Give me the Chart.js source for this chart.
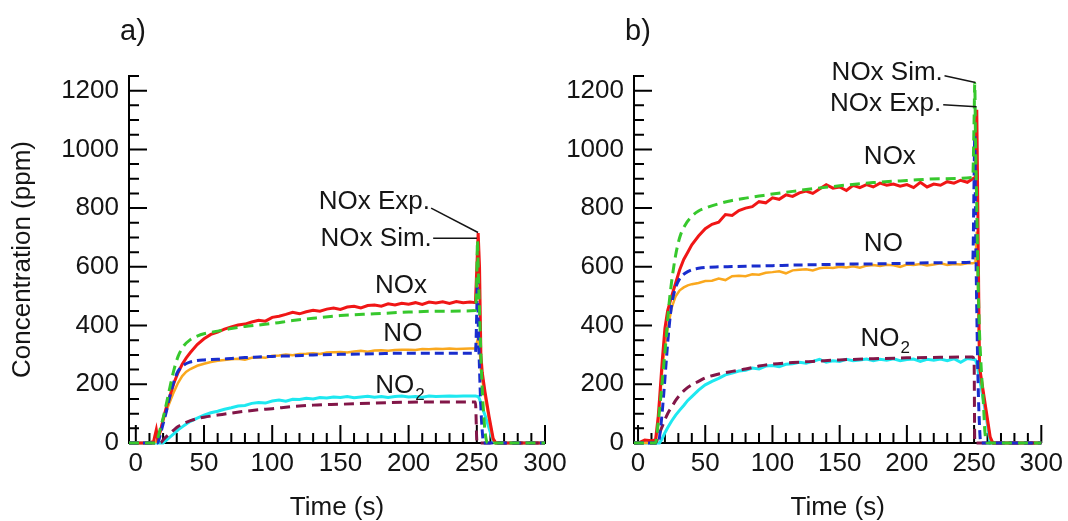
<!DOCTYPE html>
<html>
<head>
<meta charset="utf-8">
<script src="https://cdn.jsdelivr.net/npm/chart.js@4.4.0/dist/chart.umd.min.js"></script>
<style>
html, body { margin: 0; padding: 0; background: #fff; }
#wrap { position: relative; width: 1068px; height: 521px; }
#wrap canvas { position: absolute; left: 0; top: 0; }
</style>
</head>
<body>
<div id="wrap">
<canvas id="chartA" width="1068" height="521"></canvas>
<canvas id="chartB" width="1068" height="521"></canvas>
</div>
<script>
const xTickLabels = [0, 50, 100, 150, 200, 250, 300];
const yTickLabels = [0, 200, 400, 600, 800, 1000, 1200];

// ---- panel a) ----
const tExpA = [
  -5, 0, 5, 10, 13, 15, 16, 18, 20, 22,
  25, 28, 31, 34, 37, 40, 45, 50, 55, 60,
  65, 70, 75, 80, 85, 90, 95, 100, 105, 110,
  115, 120, 125, 130, 135, 140, 145, 150, 155, 160,
  165, 170, 175, 180, 185, 190, 195, 200, 205, 210,
  215, 220, 225, 230, 235, 240, 245, 249, 251, 252,
  253, 254, 256, 259, 262, 264, 270, 280, 290, 300
];
const noxExpA = [
  0, 0, 0, 0, 5, 45, 15, 40, 80, 115,
  160, 205, 240, 268, 290, 308, 335, 355, 370, 378,
  388, 395, 402, 405, 412, 418, 415, 428, 432, 438,
  445, 440, 447, 452, 449, 456, 460, 455, 463, 466,
  460, 468, 470, 466, 474, 470, 476, 473, 478, 472,
  480, 477, 481, 475, 482, 478, 480, 478, 715, 600,
  300, 240, 175, 90, 15, 0, 0, 0, 0, 0
];
const noExpA = [
  0, 0, 0, 0, 0, 5, 15, 45, 75, 105,
  140, 175, 205, 228, 243, 252, 263, 270, 276, 280,
  283, 285, 287, 284, 290, 292, 290, 297, 298, 301,
  299, 303, 304, 306, 303, 308, 309, 310, 308, 312,
  314, 311, 315, 316, 314, 317, 318, 318, 317, 320,
  319, 321, 320, 322, 320, 321, 322, 322, 360, 330,
  250, 215, 160, 80, 10, 0, 0, 0, 0, 0
];
const no2ExpA = [
  0, 0, 0, 0, 0, 0, 0, 0, 0, 8,
  20, 32, 45, 55, 65, 74, 85, 95, 103, 108,
  115, 120, 126, 128, 135, 138, 136, 143, 146, 142,
  149, 148, 152, 150, 155, 153, 157, 155, 158, 154,
  157, 159, 156, 158, 155, 158, 160, 157, 158, 156,
  160, 158, 159, 160, 159, 160, 160, 160, 158, 150,
  135, 120, 95, 50, 5, 0, 0, 0, 0, 0
];
const tSimA = [
  -5, 0, 10, 14, 16, 18, 20, 22, 25, 28,
  31, 35, 40, 45, 50, 60, 70, 80, 90, 100,
  115, 130, 150, 175, 200, 225, 249, 250, 250.5, 251,
  252, 253, 254, 255, 256, 257, 258, 260, 270, 300
];
const noxSimA = [
  0, 0, 0, 0, 15, 50, 85, 125, 190, 250,
  295, 330, 352, 364, 372, 381, 390, 397, 402, 407,
  417, 425, 434, 440, 446, 449, 451, 560, 690, 600,
  450, 300, 180, 100, 40, 10, 0, 0, 0, 0
];
const noSimA = [
  0, 0, 0, 0, 0, 30, 65, 100, 160, 210,
  245, 265, 276, 281, 283, 285, 288, 291, 293, 295,
  297, 300, 302, 304, 306, 306, 306, 450, 560, 420,
  250, 120, 40, 0, 0, 0, 0, 0, 0, 0
];
const no2SimA = [
  0, 0, 0, 0, 0, 0, 10, 20, 33, 45,
  56, 66, 76, 83, 88, 95, 102, 108, 113, 117,
  124, 129, 132, 136, 139, 140, 140, 10, 0, 0,
  0, 0, 0, 0, 0, 0, 0, 0, 0, 0
];

// ---- panel b) ----
const tExpB = [
  -3, 0, 5, 10, 13, 15, 16, 18, 20, 22,
  25, 28, 31, 34, 37, 40, 45, 50, 55, 60,
  65, 70, 75, 80, 85, 90, 95, 100, 105, 110,
  115, 120, 125, 130, 135, 140, 145, 150, 155, 160,
  165, 170, 175, 180, 185, 190, 195, 200, 205, 210,
  215, 220, 225, 230, 235, 240, 245, 249, 251, 252,
  253, 254, 256, 259, 262, 264, 270, 280, 290, 300
];
const noxExpB = [
  0, 0, 10, 8, 10, 90, 150, 280, 390, 450,
  500, 545, 590, 625, 650, 675, 705, 730, 745, 752,
  778, 775, 792, 800, 805, 822, 818, 835, 830, 845,
  840, 852, 858, 850, 865, 880, 868, 872, 860, 878,
  870, 880, 872, 885, 878, 882, 875, 880, 870, 888,
  872, 882, 878, 890, 885, 895, 888, 900, 905, 1135,
  700, 260, 200, 110, 20, 0, 0, 0, 0, 0
];
const noExpB = [
  0, 0, 0, 0, 0, 60, 130, 250, 330, 390,
  460, 500, 520, 530, 537, 541, 545, 552, 553, 560,
  555, 568, 570, 568, 575, 573, 580, 582, 585, 578,
  588, 590, 592, 588, 595, 598, 596, 600, 598, 602,
  597, 604, 606, 603, 607, 605, 600, 608, 606, 610,
  605, 608, 612, 606, 610, 608, 612, 612, 615, 720,
  500, 260, 190, 100, 15, 0, 0, 0, 0, 0
];
const no2ExpB = [
  0, 0, 0, 0, 0, 0, 0, 15, 35, 52,
  75, 95, 112, 128, 145, 158, 180, 198, 210, 220,
  232, 238, 245, 248, 255, 252, 262, 264, 260, 268,
  270, 275, 272, 278, 285, 275, 280, 278, 285, 280,
  283, 286, 280, 285, 282, 287, 280, 284, 286, 278,
  285, 282, 286, 280, 287, 275, 288, 285, 283, 270,
  245, 220, 170, 90, 0, 0, 0, 0, 0, 0
];
const tSimB = [
  -3, 0, 10, 13, 15, 17, 19, 21, 23, 25,
  28, 31, 35, 40, 45, 50, 60, 70, 80, 90,
  100, 115, 130, 150, 175, 200, 225, 249, 250, 250.5,
  251, 252, 253, 254, 255, 256, 257, 258, 260, 300
];
const noxSimB = [
  0, 0, 0, 0, 70, 160, 258, 360, 470, 550,
  640, 700, 742, 772, 790, 800, 815, 826, 834, 841,
  848, 857, 866, 876, 887, 894, 900, 905, 1100, 1225,
  1050, 800, 550, 380, 280, 200, 130, 40, 0, 0
];
const noSimB = [
  0, 0, 0, 0, 0, 60, 160, 280, 390, 470,
  530, 560, 578, 590, 595, 598, 600, 601, 602, 603,
  604, 606, 607, 609, 610, 612, 614, 616, 900, 1050,
  800, 450, 200, 60, 0, 0, 0, 0, 0, 0
];
const no2SimB = [
  0, 0, 0, 0, 20, 45, 68, 90, 108, 122,
  145, 163, 182, 198, 210, 222, 235, 244, 252, 262,
  269, 274, 278, 283, 287, 290, 292, 293, 280, 0,
  0, 0, 0, 0, 0, 0, 0, 0, 0, 0
];

const FONT = "'Liberation Sans', Arial, sans-serif";
const INK = '#151515';

function pts(t, v) {
  return t.map((x, i) => ({ x: x, y: v[i] }));
}

function line(label, t, v, color, width, dash) {
  return {
    label: label,
    data: pts(t, v),
    borderColor: color,
    borderWidth: width,
    borderDash: dash || [],
    pointRadius: 0,
    fill: false,
    clip: false,
    tension: 0,
    cubicInterpolationMode: dash ? 'monotone' : 'default'
  };
}

// inward ticks + text notes
const panelDeco = {
  id: 'panelDeco',
  beforeDatasetsDraw(chart) {
    const { ctx, scales: { x, y } } = chart;
    ctx.save();
    ctx.strokeStyle = '#000';
    ctx.lineWidth = 2;
    ctx.beginPath();
    for (let v = 0; v <= 300; v += 10) {
      const px = x.getPixelForValue(v);
      ctx.moveTo(px, y.bottom);
      ctx.lineTo(px, y.bottom - (v % 50 === 0 ? 18 : 10));
    }
    for (let v = 0; v <= 1250; v += 50) {
      const py = y.getPixelForValue(v);
      ctx.moveTo(x.left, py);
      ctx.lineTo(x.left + (v % 200 === 0 ? 18 : 10), py);
    }
    ctx.stroke();
    ctx.restore();
  },
  afterDatasetsDraw(chart, args, opts) {
    const { ctx, chartArea, scales: { x, y } } = chart;
    ctx.save();
    ctx.fillStyle = INK;
    ctx.strokeStyle = INK;
    ctx.textBaseline = 'middle';
    ctx.font = '29px ' + FONT;
    ctx.textAlign = 'center';
    ctx.fillText(opts.panel, chartArea.left + 4, 32);

    ctx.lineWidth = 1.5;
    opts.leaders.forEach(l => {
      ctx.beginPath();
      ctx.moveTo(x.getPixelForValue(l[0]), y.getPixelForValue(l[1]));
      ctx.lineTo(x.getPixelForValue(l[2]), y.getPixelForValue(l[3]));
      ctx.stroke();
    });

    opts.labels.forEach(n => {
      const px = x.getPixelForValue(n.x);
      const py = y.getPixelForValue(n.y);
      ctx.font = '26px ' + FONT;
      ctx.textAlign = n.align || 'left';
      ctx.fillText(n.text, px, py);
      if (n.sub) {
        const w = ctx.measureText(n.text).width;
        ctx.font = '17px ' + FONT;
        ctx.textAlign = 'left';
        ctx.fillText(n.sub, px + w + 1, py + 10);
      }
    });
    ctx.restore();
  }
};

function makeOptions(xMin, pad, yTitle, notes) {
  return {
    responsive: false,
    animation: false,
    devicePixelRatio: 1,
    layout: { padding: pad },
    plugins: {
      legend: { display: false },
      tooltip: { enabled: false },
      panelDeco: notes
    },
    scales: {
      x: {
        type: 'linear',
        min: xMin,
        max: 300,
        afterFit: s => { s.height = 78; },
        afterBuildTicks: s => { s.ticks = xTickLabels.map(v => ({ value: v })); },
        grid: { display: false, drawTicks: false },
        border: { display: true, color: '#000', width: 2 },
        ticks: {
          color: INK, padding: 5, autoSkip: false, maxRotation: 0,
          font: { family: FONT, size: 26 },
          callback: v => String(v)
        },
        title: {
          display: true, text: 'Time (s)', color: INK,
          font: { family: FONT, size: 26, lineHeight: 1 },
          padding: { top: 0, bottom: 0 }
        }
      },
      y: {
        type: 'linear',
        min: 0,
        max: 1250,
        afterFit: s => { s.width = 129; },
        afterBuildTicks: s => { s.ticks = yTickLabels.map(v => ({ value: v })); },
        grid: { display: false, drawTicks: false },
        border: { display: true, color: '#000', width: 2 },
        ticks: {
          color: INK, padding: 10, autoSkip: false,
          font: { family: FONT, size: 26 },
          callback: v => String(v)
        },
        title: {
          display: yTitle, text: 'Concentration (ppm)', color: INK,
          font: { family: FONT, size: 26, lineHeight: 1 },
          padding: { top: 10, bottom: 0 }
        }
      }
    }
  };
}

const RED = 'rgb(240,22,22)';
const ORANGE = 'rgb(250,168,30)';
const CYAN = 'rgb(30,232,240)';
const GREEN = 'rgb(55,200,45)';
const BLUE = 'rgb(25,45,205)';
const PURPLE = 'rgb(130,22,72)';

new Chart(document.getElementById('chartA'), {
  type: 'line',
  data: {
    datasets: [
      line('NOx Sim.', tSimA, noxSimA, GREEN, 3, [10, 6]),
      line('NO Sim.', tSimA, noSimA, BLUE, 3, [9, 5]),
      line('NO2 Sim.', tSimA, no2SimA, PURPLE, 3, [10, 6]),
      line('NOx Exp.', tExpA, noxExpA, RED, 3),
      line('NO Exp.', tExpA, noExpA, ORANGE, 2.5),
      line('NO2 Exp.', tExpA, no2ExpA, CYAN, 3)
    ]
  },
  options: makeOptions(-5, { top: 76, right: 523, bottom: 0, left: 0 }, true, {
    panel: 'a)',
    labels: [
      { text: 'NOx Exp.', x: 215.7, y: 822, align: 'right' },
      { text: 'NOx Sim.', x: 217, y: 697, align: 'right' },
      { text: 'NOx', x: 175.4, y: 537 },
      { text: 'NO', x: 181.5, y: 372 },
      { text: 'NO', sub: '2', x: 175.5, y: 196 }
    ],
    leaders: [
      [216.5, 800, 250.9, 717],
      [218, 697, 250.1, 697]
    ]
  }),
  plugins: [panelDeco]
});

new Chart(document.getElementById('chartB'), {
  type: 'line',
  data: {
    datasets: [
      line('NOx Sim.', tSimB, noxSimB, GREEN, 3, [10, 6]),
      line('NO Sim.', tSimB, noSimB, BLUE, 3, [9, 5]),
      line('NO2 Sim.', tSimB, no2SimB, PURPLE, 3, [10, 6]),
      line('NOx Exp.', tExpB, noxExpB, RED, 3),
      line('NO Exp.', tExpB, noExpB, ORANGE, 2.5),
      line('NO2 Exp.', tExpB, no2ExpB, CYAN, 3)
    ]
  },
  options: makeOptions(-3, { top: 76, right: 25, bottom: 0, left: 505 }, false, {
    panel: 'b)',
    labels: [
      { text: 'NOx Sim.', x: 226.75, y: 1262, align: 'right' },
      { text: 'NOx Exp.', x: 225.5, y: 1155, align: 'right' },
      { text: 'NOx', x: 168, y: 973 },
      { text: 'NO', x: 168, y: 678 },
      { text: 'NO', sub: '2', x: 165.5, y: 355 }
    ],
    leaders: [
      [228, 1251, 251, 1228],
      [227, 1152, 251.75, 1145]
    ]
  }),
  plugins: [panelDeco]
});
</script>
</body>
</html>
